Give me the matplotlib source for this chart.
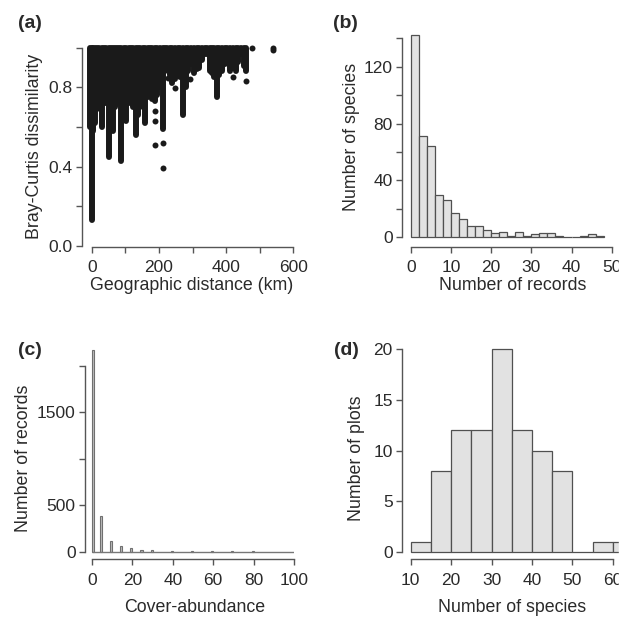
import numpy as np
import matplotlib.pyplot as plt

plt.rcParams['font.family'] = ['Liberation Sans', 'DejaVu Sans']

# (a) Bray-Curtis dissimilarity vs distance: dense columns (km, lowest value, highest value)
col_km = [-5, 0, 5, 10, 16, 22, 30, 36, 42, 50, 56, 62, 68, 74, 80, 88, 95, 103, 110, 117,
          124, 131, 138, 145, 152, 160, 167, 174, 180, 188, 195, 203, 211, 218, 225, 232,
          240, 248, 256, 264, 272, 280, 288, 296, 304, 312, 320, 328, 336, 344, 352, 358,
          365, 372, 380, 388, 396, 404, 412, 420, 428, 436, 444, 452, 458]
col_low = [0.60, 0.13, 0.58, 0.62, 0.69, 0.70, 0.60, 0.72, 0.72, 0.45, 0.66, 0.58, 0.70, 0.72,
           0.73, 0.43, 0.70, 0.63, 0.72, 0.74, 0.70, 0.56, 0.66, 0.74, 0.70, 0.62, 0.75, 0.78,
           0.74, 0.73, 0.76, 0.80, 0.59, 0.88, 0.90, 0.86, 0.82, 0.84, 0.86, 0.85, 0.66, 0.80,
           0.88, 0.92, 0.87, 0.89, 0.90, 0.94, 0.97, 0.97, 0.88, 0.87, 0.85, 0.75, 0.86, 0.88,
           0.92, 0.97, 0.88, 0.90, 0.88, 0.93, 0.97, 0.91, 0.88]
col_high = [1.0] * len(col_km)
# isolated points
pt_km = [188, 188, 188, 211, 211, 228, 248, 293, 420, 459, 478, 540, 540]
pt_bc = [0.68, 0.63, 0.51, 0.52, 0.39, 0.845, 0.795, 0.84, 0.85, 0.83, 1.0, 1.0, 0.99]

# (b) number of records per species
rec_edges = [0, 2, 4, 6, 8, 10, 12, 14, 16, 18, 20, 22, 24, 26, 28, 30, 32, 34, 36, 38, 40,
             42, 44, 46, 48]
rec_counts = [142, 71, 64, 30, 26, 17, 13, 8, 8, 5, 3, 4, 1, 4, 1, 2, 3, 3, 1, 0, 0, 1, 2, 1]

# (c) cover-abundance
cover_vals = [1, 5, 10, 15, 20, 25, 30, 40, 50, 60, 70, 80]
cover_counts = [2170, 385, 115, 60, 36, 21, 18, 12, 10, 4, 4, 4]
cover_range = [0, 100]

# (d) number of species per plot
sp_edges = [10, 15, 20, 25, 30, 35, 40, 45, 50, 55, 60, 65]
sp_counts = [1, 8, 12, 12, 20, 12, 10, 8, 0, 1, 1]

W, H = 630, 620
TXT = '#2a2a2a'
AX = '#555555'


def rect(l, t, r, b):
    return [l / W, 1 - b / H, (r - l) / W, (b - t) / H]


def r_style(ax, xb, yb, xt, xl, yt, yl):
    for s in ['top', 'right']:
        ax.spines[s].set_visible(False)
    for s in ['left', 'bottom']:
        ax.spines[s].set_color(AX)
        ax.spines[s].set_linewidth(1.0)
    ax.spines['bottom'].set_bounds(*xb)
    ax.spines['left'].set_bounds(*yb)
    ax.set_xticks(xt)
    ax.set_xticklabels(xl)
    ax.set_yticks(yt)
    ax.set_yticklabels(yl)
    ax.tick_params(direction='out', length=4.3, width=1.0, color=AX, labelcolor=TXT,
                   labelsize=12.5)
    ax.tick_params(axis='x', pad=5.5)
    ax.tick_params(axis='y', pad=2.5)
    ax.patch.set_alpha(0)


def ftext(x, y, s, **kw):
    fig.text(x / W, 1 - y / H, s, ha='center', va='center', color=TXT, **kw)


fig = plt.figure(figsize=(6.3, 6.2), dpi=100)

# (a)
ax = fig.add_axes(rect(82.3, 39.8, 293.3, 246.7))
ax.set_xlim(-28, 600)
ax.set_ylim(-0.005, 1.04)
lc = ax.vlines(col_km, col_low, col_high, colors='#1a1a1a', linewidth=4.3)
lc.set_capstyle('round')
ax.scatter(pt_km, pt_bc, s=18.5, color='#1a1a1a', linewidths=0)
r_style(ax, (0, 600), (0, 1.0), [0, 100, 200, 300, 400, 500, 600],
        ['0', '', '200', '', '400', '', '600'], [0, 0.2, 0.4, 0.6, 0.8, 1.0],
        ['0.0', '', '0.4', '', '0.8', ''])
ftext(191.7, 285, 'Geographic distance (km)', fontsize=12.8)
ftext(35, 146.7, 'Bray-Curtis dissimilarity', fontsize=12.8, rotation=90)
ftext(30, 23, '(a)', fontsize=14, fontweight='bold')

# (b)
ax = fig.add_axes(rect(402.3, 27.3, 611.7, 246.7))
ax.set_xlim(-2.09, 50)
ax.set_ylim(-6.6, 147.7)
ax.bar(rec_edges[:-1], rec_counts, width=np.diff(rec_edges), align='edge',
       color='#e2e2e2', edgecolor='#505050', linewidth=0.9)
r_style(ax, (0, 50), (0, 140), [0, 10, 20, 30, 40, 50],
        ['0', '10', '20', '30', '40', '50'], [0, 20, 40, 60, 80, 100, 120, 140],
        ['0', '', '40', '', '80', '', '120', ''])
ftext(512.5, 285, 'Number of records', fontsize=12.8)
ftext(351.7, 136.7, 'Number of species', fontsize=12.8, rotation=90)
ftext(345, 23, '(b)', fontsize=14, fontweight='bold')

# (c)
ax = fig.add_axes(rect(85, 341.9, 294, 559.3))
ax.set_xlim(-3.47, 100)
ax.set_ylim(-81.8, 2258)
ax.hlines(0, cover_range[0], cover_range[1], color='#777777', linewidth=1.0)
ax.bar(np.array(cover_vals) - 1, cover_counts, width=1, align='edge',
       color='#bdbdbd', edgecolor='#707070', linewidth=0.8)
r_style(ax, (0, 100), (0, 2000), [0, 20, 40, 60, 80, 100],
        ['0', '20', '40', '60', '80', '100'], [0, 500, 1000, 1500, 2000],
        ['0', '500', '', '1500', ''])
ftext(194.2, 608, 'Cover-abundance', fontsize=12.8)
ftext(23.3, 458, 'Number of records', fontsize=12.8, rotation=90)
ftext(30, 350, '(c)', fontsize=14, fontweight='bold')

# (d)
ax = fig.add_axes(rect(402.3, 341.2, 620, 559.3))
ax.set_xlim(7.92, 61.8)
ax.set_ylim(-0.75, 20.8)
ax.bar(sp_edges[:-1], sp_counts, width=np.diff(sp_edges), align='edge',
       color='#e2e2e2', edgecolor='#505050', linewidth=0.9)
r_style(ax, (10, 60), (0, 20), [10, 20, 30, 40, 50, 60],
        ['10', '20', '30', '40', '50', '60'], [0, 5, 10, 15, 20],
        ['0', '5', '10', '15', '20'])
ftext(511.7, 608, 'Number of species', fontsize=12.8)
ftext(356.7, 458, 'Number of plots', fontsize=12.8, rotation=90)
ftext(346, 350, '(d)', fontsize=14, fontweight='bold')

# right edge of the original figure is cropped
fig.add_artist(plt.Rectangle((619 / W, 0), 11 / W, 1, transform=fig.transFigure,
                             color='white', zorder=20))

fig.savefig('out.png', dpi=100, facecolor='white')
